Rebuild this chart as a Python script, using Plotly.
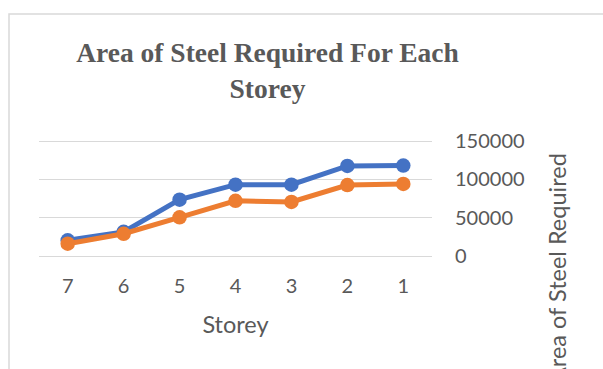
import plotly.graph_objects as go

# Storeys, listed from the top floor down to the ground floor
storeys = ["7", "6", "5", "4", "3", "2", "1"]
# Two area-of-steel series per storey
steel_series_a = [20500, 31500, 73500, 93000, 93000, 117500, 118000]
steel_series_b = [16000, 29000, 50500, 72000, 70500, 92500, 94000]
y_tick_values = [0, 50000, 100000, 150000]
y_tick_labels = ["0", "50000", "100000", "150000"]

W, H = 603, 369
plot_left, plot_right = 39, 432
y_top_px, y_zero_px = 141, 256          # pixel rows of 150000 and 0
pad_px = 6                              # small headroom so the edge gridlines show
units_per_px = 150000 / (y_zero_px - y_top_px)
pad_units = pad_px * units_per_px
plot_top, plot_bottom = y_top_px - pad_px, y_zero_px + pad_px
plot_w = plot_right - plot_left
plot_h = plot_bottom - plot_top

TEXT = "#595959"
GRID = "#d9d9d9"
BLUE = "#4472C4"
ORANGE = "#ED7D31"

fig = go.Figure()
for vals, col in ((steel_series_a, BLUE), (steel_series_b, ORANGE)):
    fig.add_trace(go.Scatter(
        x=storeys, y=vals, mode="lines+markers",
        line=dict(color=col, width=5),
        marker=dict(color=col, size=14.5),
        showlegend=False,
    ))

fig.update_layout(
    width=W, height=H,
    margin=dict(l=plot_left, r=W - plot_right, t=plot_top, b=H - plot_bottom),
    paper_bgcolor="white", plot_bgcolor="white",
    title=dict(
        text="Area of Steel Required For Each<br>Storey",
        font=dict(family="Liberation Serif", size=27.5, color=TEXT, weight="bold"),
        x=267.5 / W, xanchor="center", xref="container",
        y=1 - 62 / H, yanchor="top", yref="container",
    ),
    xaxis=dict(
        type="category", categoryorder="array", categoryarray=storeys,
        showgrid=False, zeroline=False, showline=False, ticks="",
        tickfont=dict(family="Lato", size=20, color=TEXT),
        ticklabelstandoff=10,
        title=dict(text="Storey", font=dict(family="Lato", size=23.5, color=TEXT), standoff=20),
    ),
    yaxis=dict(
        side="right", range=[-pad_units, 150000 + pad_units],
        tickvals=y_tick_values, ticktext=y_tick_labels,
        showgrid=True, gridcolor=GRID, gridwidth=1.3,
        zeroline=False, showline=False, ticks="",
        tickfont=dict(family="Lato", size=20, color=TEXT),
        ticklabelstandoff=22,
    ),
)

# rotated axis title on the right
fig.add_annotation(
    text="Area of Steel Required", textangle=-90, showarrow=False,
    xref="paper", yref="paper",
    x=(557 - plot_left) / plot_w, y=(plot_bottom - 268) / plot_h,
    xanchor="center", yanchor="middle",
    font=dict(family="Lato", size=23.5, color=TEXT),
)

# chart-area frame
fig.add_shape(
    type="rect", xref="paper", yref="paper",
    x0=(9 - plot_left) / plot_w, x1=2.0,
    y0=-2.0, y1=(plot_bottom - 14) / plot_h,
    line=dict(color=GRID, width=1.5), fillcolor="rgba(0,0,0,0)", layer="below",
)

fig.write_html("out.html")
